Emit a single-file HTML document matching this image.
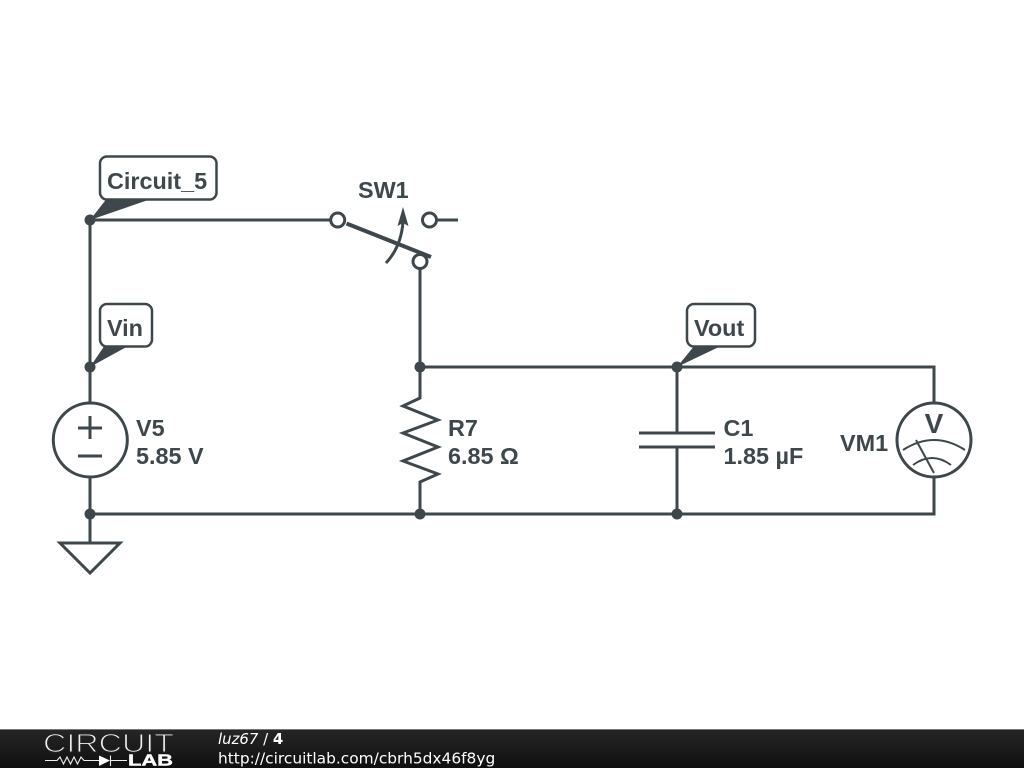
<!DOCTYPE html>
<html><head><meta charset="utf-8"><style>
html,body{margin:0;padding:0;background:#fff}
svg{display:block}
</style></head><body>
<svg width="1024" height="768" viewBox="0 0 1024 768" xmlns="http://www.w3.org/2000/svg">
<defs><linearGradient id="f" x1="0" y1="0" x2="0" y2="1"><stop offset="0" stop-color="#262626"/><stop offset="0.5" stop-color="#1b1b1b"/><stop offset="1" stop-color="#0f0f0f"/></linearGradient></defs>
<rect width="1024" height="768" fill="#fff"/>
<g fill="none" stroke="#3e484c" stroke-width="3">
<path d="M90 220H330.500M90 220V403M90 477V543M60 543H120L90 573Z"/>
<path d="M346.500 223.500L431 257" stroke-width="4"/>
<circle cx="337.700" cy="220" r="7"/>
<circle cx="429.500" cy="220" r="7"/>
<path d="M436.500 220H458"/>
<circle cx="420" cy="261.500" r="7"/>
<path d="M420 268.500V367H934V403M934 477V514H90"/>
<path d="M386 263Q401 247 403 222"/>
<circle cx="90.300" cy="440" r="37"/>
<path d="M78 428H102M90 416V439M78 456H102"/>
<path d="M420 367V398L403 406L438 420L403 433L438 447L403 461L438 474L420 482V514" stroke-linejoin="miter"/>
<path d="M677 367V433M677 447V514M639 433H715M639 447H715"/>
<circle cx="934" cy="440" r="37"/>
<path d="M903 450Q934 430 965 450M913 465Q932 451 951 465M916 440L934 473" stroke-width="2"/>
</g>
<path d="M403 207L408.500 226L403 223L397.500 226Z" fill="#3e484c"/>
<g fill="#3e484c">
<circle cx="90" cy="220" r="5.500"/><circle cx="90" cy="367" r="5.500"/><circle cx="90" cy="514" r="5.500"/>
<circle cx="420" cy="367" r="5.500"/><circle cx="420" cy="514" r="5.500"/>
<circle cx="677" cy="367" r="5.500"/><circle cx="677" cy="514" r="5.500"/>
<path d="M90 220L108 197H157Z"/>
<path d="M90 367L105 345H130Z"/>
<path d="M677 367L695 345H723Z"/>
</g>
<g fill="#fff" stroke="#3e484c" stroke-width="2.500">
<rect x="100" y="156.500" width="116.500" height="43" rx="7"/>
<rect x="100" y="304" width="52" height="42.500" rx="7"/>
<rect x="687" y="304" width="68" height="42.500" rx="7"/>
</g>
<g font-family="'Liberation Sans',sans-serif" font-weight="700" font-size="23.400" fill="#3e484c">
<text x="107" y="189">Circuit_5</text>
<text x="107" y="336">Vin</text>
<text x="694" y="336">Vout</text>
<text x="358" y="198">SW1</text>
<text x="136" y="436">V5</text>
<text x="136" y="464">5.85 V</text>
<text x="448" y="436">R7</text>
<text x="448" y="464">6.85 Ω</text>
<text x="723.500" y="436">C1</text>
<text x="723.500" y="464">1.85 µF</text>
<text x="840" y="451">VM1</text>
<text x="934" y="433" text-anchor="middle" font-size="28">V</text>
</g>
<rect y="729" width="1024" height="39" fill="url(#f)"/>
<rect y="729" width="1024" height="1" fill="#777"/>
<text x="43" y="752" font-family="'Liberation Sans',sans-serif" font-size="26" fill="#f2f2f2" stroke="#222" stroke-width="1.100" textLength="131" lengthAdjust="spacingAndGlyphs">CIRCUIT</text>
<text x="128" y="765.500" font-family="'Liberation Sans',sans-serif" font-weight="700" font-size="16" fill="#fff" stroke="#fff" stroke-width="0.400" textLength="45" lengthAdjust="spacingAndGlyphs">LAB</text>
<path d="M45 760.500H57L60 757L63.500 764L67 757L70.500 764L74 757L77.500 764L81 757L84 760.500H99M110 760.500H127M110.500 755.500V766" fill="none" stroke="#eee" stroke-width="1.100"/>
<path d="M99 755.500L110 760.500L99 766Z" fill="#fff"/>
<g font-family="'DejaVu Sans',sans-serif" fill="#fff">
<text x="218" y="744" font-size="14.900"><tspan font-style="italic">luz67</tspan> / <tspan font-weight="700">4</tspan></text>
<text x="218" y="763.500" font-size="15.400">http://circuitlab.com/cbrh5dx46f8yg</text>
</g>
</svg>
</body></html>
